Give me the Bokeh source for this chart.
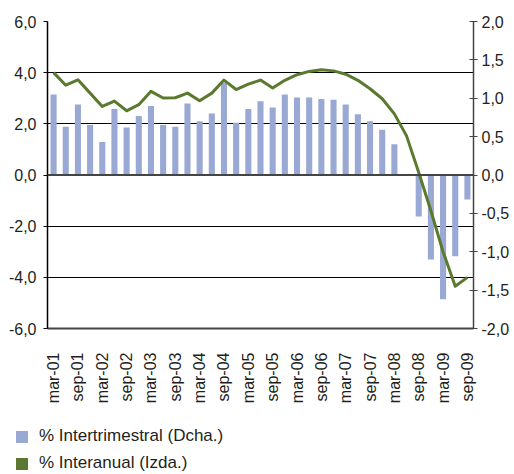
import math
from bokeh.plotting import figure
from bokeh.layouts import column, row
from bokeh.models import (FactorRange, Range1d, LinearAxis, FixedTicker, CustomJSTickFormatter,
                          Span, Legend, LegendItem, ColumnDataSource)
from bokeh.embed import file_html
from bokeh.resources import INLINE

quarters = [f"{m}-{y:02d}" for y in range(1, 10) for m in ("mar", "jun", "sep", "dec")][:35]

intertrimestral = [1.05, 0.63, 0.92, 0.65, 0.43, 0.86, 0.62, 0.77, 0.90, 0.65,
                   0.63, 0.93, 0.70, 0.80, 1.20, 0.68, 0.86, 0.96, 0.88, 1.05,
                   1.01, 1.01, 0.99, 0.98, 0.92, 0.79, 0.70, 0.59, 0.40, 0.00,
                   -0.54, -1.10, -1.62, -1.06, -0.32]

interanual = [4.00, 3.51, 3.72, 3.20, 2.68, 2.89, 2.51, 2.75, 3.27, 3.01,
              3.02, 3.20, 2.90, 3.20, 3.71, 3.34, 3.55, 3.71, 3.40, 3.70,
              3.92, 4.05, 4.11, 4.07, 3.94, 3.70, 3.37, 2.98, 2.39, 1.53,
              0.10, -1.40, -3.00, -4.35, -4.00]

series_labels = ["% Intertrimestral (Dcha.)", "% Interanual (Izda.)"]

left_ticks = [-6, -4, -2, 0, 2, 4, 6]
right_ticks = [-2, -1.5, -1, -0.5, 0, 0.5, 1, 1.5, 2]

BAR = "#9AA9D4"
GREEN = "#5B7A2F"
TXT = "#231F20"
FONT = "Liberation Sans"

p = figure(x_range=FactorRange(factors=quarters, range_padding=0),
           y_range=Range1d(-6, 6),
           frame_width=426, frame_height=307,
           min_border_left=47, min_border_right=30, min_border_top=21, min_border_bottom=83,
           output_backend="svg", toolbar_location=None)
p.outline_line_color = None
p.background_fill_color = "white"
p.border_fill_color = "white"
p.extra_y_ranges = {"right": Range1d(-2, 2)}

fmt = CustomJSTickFormatter(code="return tick.toFixed(1).replace('.', ',');")

la = p.left[0]
la.ticker = FixedTicker(ticks=left_ticks)
la.formatter = fmt
la.axis_line_color = "black"
la.axis_line_width = 1.5
la.major_tick_line_color = "black"
la.major_tick_out = 4
la.major_tick_in = 0
la.minor_tick_line_color = None
la.major_label_standoff = 7
la.major_label_text_font = FONT
la.major_label_text_font_size = "16px"
la.major_label_text_color = TXT

ra = LinearAxis(y_range_name="right", ticker=FixedTicker(ticks=right_ticks), formatter=fmt)
ra.axis_line_color = "#444444"
ra.axis_line_width = 1.5
ra.major_tick_line_color = "#444444"
ra.major_tick_out = 4
ra.major_tick_in = 4
ra.minor_tick_line_color = None
ra.major_label_standoff = 4
ra.major_label_text_font = FONT
ra.major_label_text_font_size = "16px"
ra.major_label_text_color = TXT
p.add_layout(ra, "right")

xa = p.below[0]
xa.axis_line_color = "#444444"
xa.axis_line_width = 2
xa.major_tick_line_color = None
xa.minor_tick_line_color = None
xa.major_label_orientation = math.pi / 2
xa.major_label_standoff = 18
xa.major_label_text_font = FONT
xa.major_label_text_font_size = "16px"
xa.major_label_text_color = TXT
xa.formatter = CustomJSTickFormatter(
    code="return (tick.startsWith('jun') || tick.startsWith('dec')) ? '' : tick;")

p.xgrid.visible = False
p.ygrid.ticker = FixedTicker(ticks=[-4, -2, 2, 4, 6])
p.ygrid.grid_line_color = "black"
p.ygrid.grid_line_width = 1

src = ColumnDataSource(dict(q=quarters, bar=intertrimestral, line=interanual))
p.vbar(x="q", top="bar", bottom=0, width=0.5, source=src, y_range_name="right",
       fill_color=BAR, line_color=None)
p.add_layout(Span(location=0, dimension="width", line_color="#444444", line_width=2))
p.line(x="q", y="line", source=src, line_color=GREEN, line_width=3, line_join="round")

# legend panel below the chart: legend-only renderers (zero-height bars, nothing visible)
lg = figure(width=509, height=62, x_range=FactorRange(factors=quarters), y_range=Range1d(-2, 2),
            x_axis_type=None, y_axis_type=None,
            min_border=0, output_backend="svg", toolbar_location=None)
lg.outline_line_color = None
lg.xgrid.visible = False
lg.ygrid.visible = False
r_bar = lg.vbar(x="q", top=0, bottom=0, width=0.5, source=src,
                fill_color=BAR, line_color=None)
r_line = lg.vbar(x="q", top=0, bottom=0, width=0.5, source=src,
                 fill_color=GREEN, line_color=None)
legend = Legend(items=[LegendItem(label=series_labels[0], renderers=[r_bar]),
                       LegendItem(label=series_labels[1], renderers=[r_line])],
                location="top_left", orientation="vertical", padding=0, margin=14,
                spacing=5, label_height=22, glyph_height=15, glyph_width=15,
                label_standoff=10, border_line_color=None, background_fill_alpha=0,
                label_text_font=FONT, label_text_font_size="17px", label_text_color=TXT)
lg.add_layout(legend, "center")

layout = column(p, row(lg, spacing=0), spacing=0)
open("out.html", "w").write(file_html(layout, INLINE))
